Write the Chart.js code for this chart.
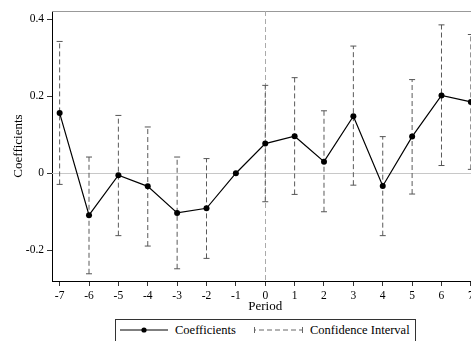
<!DOCTYPE html>
<html>
<head>
<meta charset="utf-8">
<script src="https://cdn.jsdelivr.net/npm/chart.js@4"></script>
<style>
  html, body { margin: 0; padding: 0; background: #fff; overflow: hidden; }
  #wrap { position: relative; width: 490px; height: 341px; }
  #legend { position: absolute; left: 115px; top: 319px; width: 299px; height: 30px;
    border: 1px solid #333; background: #fff; font-family: "Liberation Serif", serif; font-size: 12.5px; color: #000; }
  #legend .item { position: absolute; top: 3px; white-space: nowrap; }
  #legend svg { position: absolute; }
</style>
</head>
<body>
<div id="wrap">
  <canvas id="c" width="490" height="341"></canvas>
  <div id="legend">
    <svg style="left:4px;top:4px" width="48" height="12"><line x1="0" y1="6" x2="48" y2="6" stroke="#000" stroke-width="1.2"/><circle cx="24" cy="6" r="2.6" fill="#000"/></svg>
    <span class="item" style="left:59px">Coefficients</span>
    <svg style="left:138px;top:4px" width="49" height="12"><line x1="1" y1="6" x2="48" y2="6" stroke="#666" stroke-width="1" stroke-dasharray="5,3" stroke-dashoffset="-4"/><line x1="0.5" y1="3" x2="0.5" y2="9" stroke="#666"/><line x1="48.5" y1="3" x2="48.5" y2="9" stroke="#666"/></svg>
    <span class="item" style="left:194px">Confidence Interval</span>
  </div>
</div>
<script>
const periods = [-7, -6, -5, -4, -3, -2, -1, 0, 1, 2, 3, 4, 5, 6, 7];
const coef    = [0.156, -0.109, -0.005, -0.034, -0.103, -0.091, 0.000, 0.077, 0.096, 0.030, 0.148, -0.033, 0.095, 0.202, 0.185];
const ciLow   = [-0.029, -0.261, -0.162, -0.189, -0.248, -0.221, null, -0.074, -0.055, -0.100, -0.031, -0.162, -0.054, 0.020, 0.010];
const ciHigh  = [0.342, 0.042, 0.150, 0.120, 0.042, 0.038, null, 0.228, 0.248, 0.162, 0.330, 0.095, 0.243, 0.385, 0.360];
const yTicks  = [-0.2, 0, 0.2, 0.4];
const yTickLabels = ['-0.2', '0', '0.2', '0.4'];

const coefData = periods.map((p, i) => ({ x: p, y: coef[i] }));
const ciData = [];
periods.forEach((p, i) => {
  if (ciLow[i] === null) return;
  ciData.push({ x: p, y: ciLow[i] }, { x: p, y: ciHigh[i] }, { x: p, y: null });
});

const FONT = '"Liberation Serif", serif';

const framePlugin = {
  id: 'frame',
  beforeDatasetsDraw(chart) {
    const { ctx, chartArea: a, scales: { x, y } } = chart;
    ctx.save();
    const y0 = Math.round(y.getPixelForValue(0)) + 0.5;
    ctx.strokeStyle = '#c8c8c8'; ctx.lineWidth = 1;
    ctx.beginPath(); ctx.moveTo(a.left, y0); ctx.lineTo(a.right, y0); ctx.stroke();
    ctx.strokeStyle = '#999';
    ctx.beginPath(); ctx.moveTo(a.left, a.top + 0.5); ctx.lineTo(a.right, a.top + 0.5); ctx.stroke();
    const x0 = Math.round(x.getPixelForValue(0)) + 0.5;
    ctx.strokeStyle = '#aaa'; ctx.setLineDash([5, 3]);
    ctx.beginPath(); ctx.moveTo(x0, a.top); ctx.lineTo(x0, a.bottom); ctx.stroke();
    ctx.restore();
  }
};

new Chart(document.getElementById('c'), {
  type: 'line',
  data: {
    datasets: [
      {
        label: 'Coefficients',
        data: coefData,
        borderColor: '#000', backgroundColor: '#000',
        borderWidth: 1.2, pointRadius: 3, pointHoverRadius: 3,
        pointBackgroundColor: '#000', pointBorderColor: '#000', pointBorderWidth: 0,
        tension: 0, order: 0
      },
      {
        label: 'Confidence Interval',
        data: ciData,
        borderColor: '#5a5a5a', borderWidth: 1, borderDash: [5, 3],
        pointStyle: 'line', pointRadius: 3, pointBorderColor: '#555', pointBorderWidth: 1,
        spanGaps: false, tension: 0, order: 1
      }
    ]
  },
  options: {
    responsive: false, animation: false,
    layout: { padding: { left: 0, right: 11.5, top: 11, bottom: 0 } },
    plugins: { legend: { display: false }, tooltip: { enabled: false } },
    scales: {
      x: {
        type: 'linear', min: -7.26, max: 7.26,
        afterBuildTicks(s) { s.ticks = periods.map(v => ({ value: v })); },
        afterFit(s) { s.height = 60; },
        ticks: { font: { family: FONT, size: 11.5 }, color: '#000', padding: 3, maxRotation: 0, autoSkip: false,
          callback: v => String(v) },
        grid: { display: true, drawOnChartArea: false, drawTicks: true, tickLength: 5, tickColor: '#333', color: 'transparent' },
        border: { display: true, color: '#000', width: 1 },
        title: { display: true, text: 'Period', font: { family: FONT, size: 13 }, color: '#000', padding: { top: 0, bottom: 27 } }
      },
      y: {
        type: 'linear', min: -0.2797, max: 0.421,
        afterBuildTicks(s) { s.ticks = yTicks.map(v => ({ value: v })); },
        afterFit(s) { s.width = 52; },
        ticks: { font: { family: FONT, size: 11.5 }, color: '#000', padding: 3,
          callback: (v) => { const i = yTicks.findIndex(t => Math.abs(t - v) < 1e-9); return i >= 0 ? yTickLabels[i] : ''; } },
        grid: { display: true, drawOnChartArea: false, drawTicks: true, tickLength: 5, tickColor: '#333', color: 'transparent' },
        border: { display: true, color: '#000', width: 1 },
        title: { display: true, text: 'Coefficients', font: { family: FONT, size: 13 }, color: '#000', padding: { top: 11, bottom: 0 } }
      }
    }
  },
  plugins: [framePlugin]
});
</script>
</body>
</html>
